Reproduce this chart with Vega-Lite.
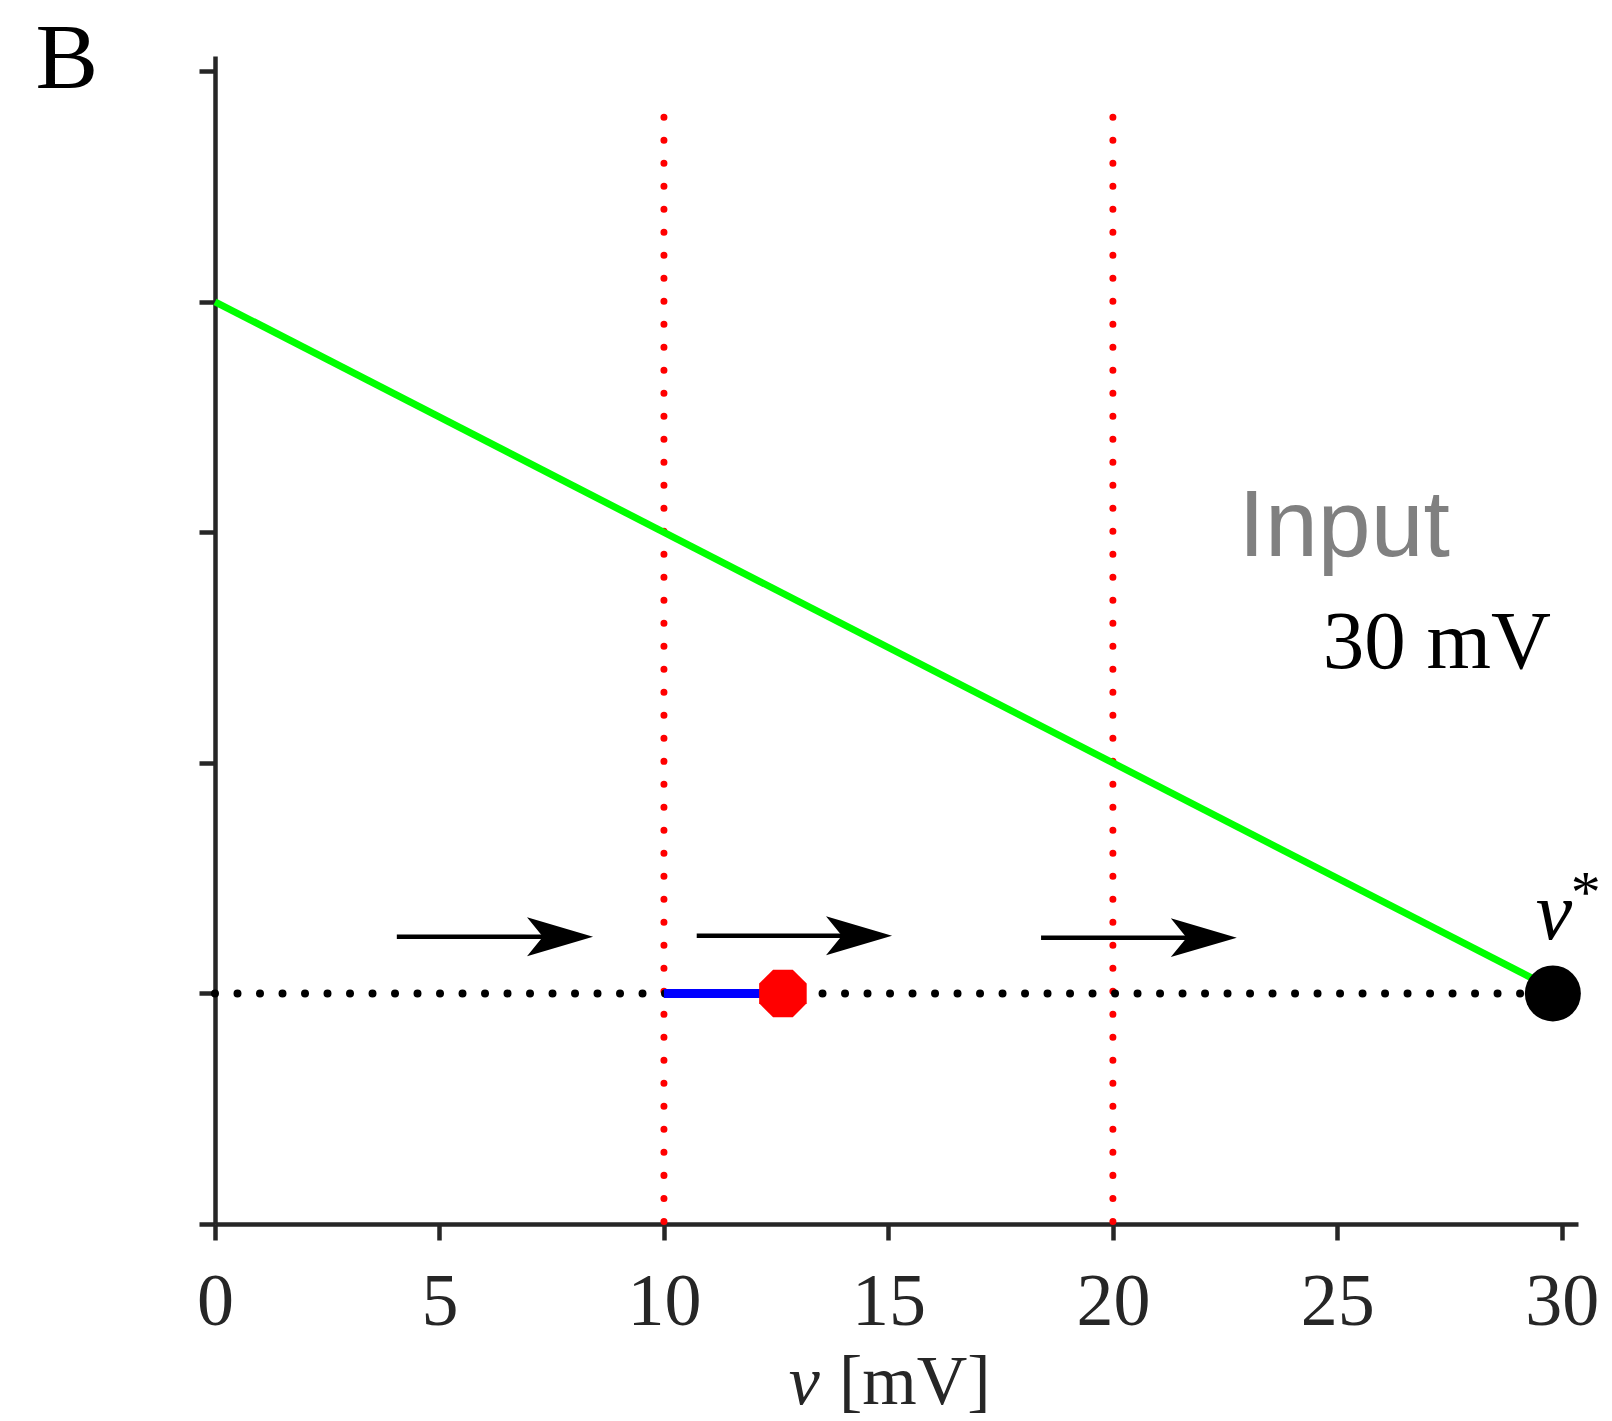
{
  "$schema": "https://vega.github.io/schema/vega-lite/v6.json",
  "width": 1363,
  "height": 1168,
  "autosize": {"type": "none"},
  "padding": {"left": 215, "top": 56, "right": 34, "bottom": 197},
  "background": "white",
  "datasets": {
    "green": [{"v": 0, "f": 4}, {"v": 29.8, "f": 1.02}],
    "thresholds": [{"v": 10, "top": 4.8, "bottom": 0}, {"v": 20, "top": 4.8, "bottom": 0}],
    "baseline": [{"v0": 0, "v1": 29.8, "f": 1}],
    "flow": [{"v0": 10, "v1": 12.65, "f": 1}],
    "arrows": [
      {"x0": 4.05, "neck": 7.31, "x1": 8.42, "f": 1.246},
      {"x0": 10.73, "neck": 13.97, "x1": 15.08, "f": 1.25},
      {"x0": 18.4, "neck": 21.65, "x1": 22.76, "f": 1.242}
    ],
    "reset": [{"v": 12.65, "f": 1}],
    "fixed": [{"v": 29.8, "f": 1}]
  },
  "layer": [
    {
      "data": {"name": "thresholds"},
      "mark": {"type": "rule", "color": "#ff0000", "strokeWidth": 7, "strokeCap": "round", "strokeDash": [0.001, 23]},
      "encoding": {
        "x": {"field": "v", "type": "quantitative", "scale": {"domain": [0, 30.36], "nice": false, "zero": false},
          "axis": {"title": null, "values": [0, 5, 10, 15, 20, 25, 30]}},
        "y": {"field": "top", "type": "quantitative", "scale": {"domain": [0, 5.066], "nice": false, "zero": false},
          "axis": {"title": null, "values": [0, 1, 2, 3, 4, 5], "labels": false}},
        "y2": {"field": "bottom"}
      }
    },
    {
      "data": {"name": "baseline"},
      "mark": {"type": "rule", "color": "#000000", "strokeWidth": 8, "strokeCap": "round", "strokeDash": [0.001, 22.5]},
      "encoding": {
        "x": {"field": "v0", "type": "quantitative", "axis": {"title": null}},
        "x2": {"field": "v1"},
        "y": {"field": "f", "type": "quantitative", "axis": {"title": null}}
      }
    },
    {
      "data": {"name": "green"},
      "mark": {"type": "line", "color": "#00ff00", "strokeWidth": 7},
      "encoding": {
        "x": {"field": "v", "type": "quantitative", "axis": {"title": null}},
        "y": {"field": "f", "type": "quantitative", "axis": {"title": null}}
      }
    },
    {
      "data": {"name": "flow"},
      "mark": {"type": "rule", "color": "#0000ff", "strokeWidth": 9},
      "encoding": {
        "x": {"field": "v0", "type": "quantitative", "axis": {"title": null}},
        "x2": {"field": "v1"},
        "y": {"field": "f", "type": "quantitative", "axis": {"title": null}}
      }
    },
    {
      "data": {"name": "arrows"},
      "mark": {"type": "rule", "color": "#000000", "strokeWidth": 4.5},
      "encoding": {
        "x": {"field": "x0", "type": "quantitative", "axis": {"title": null}},
        "x2": {"field": "neck"},
        "y": {"field": "f", "type": "quantitative", "axis": {"title": null}}
      }
    },
    {
      "data": {"name": "arrows"},
      "mark": {"type": "point", "shape": "M0,0L-2,-0.59L-1.52,0L-2,0.59Z", "size": 4356, "filled": true, "color": "#000000", "opacity": 1, "strokeWidth": 0},
      "encoding": {
        "x": {"field": "x1", "type": "quantitative", "axis": {"title": null}},
        "y": {"field": "f", "type": "quantitative", "axis": {"title": null}}
      }
    },
    {
      "data": {"name": "reset"},
      "mark": {"type": "point", "shape": "M-0.383,-0.924L0.383,-0.924L0.924,-0.383L0.924,0.383L0.383,0.924L-0.383,0.924L-0.924,0.383L-0.924,-0.383Z", "size": 2650, "filled": true, "color": "#ff0000", "opacity": 1, "strokeWidth": 0},
      "encoding": {
        "x": {"field": "v", "type": "quantitative", "axis": {"title": null}},
        "y": {"field": "f", "type": "quantitative", "axis": {"title": null}}
      }
    },
    {
      "data": {"name": "fixed"},
      "mark": {"type": "circle", "size": 3136, "color": "#000000", "opacity": 1},
      "encoding": {
        "x": {"field": "v", "type": "quantitative", "axis": {"title": null}},
        "y": {"field": "f", "type": "quantitative", "axis": {"title": null}}
      }
    },
    {
      "data": {"values": [{"label": "B"}]},
      "mark": {"type": "text", "font": "Liberation Serif", "fontSize": 94, "color": "#000000", "align": "left", "baseline": "alphabetic"},
      "encoding": {"text": {"field": "label"}, "x": {"datum": -4.0, "type": "quantitative"}, "y": {"datum": 4.926, "type": "quantitative"}}
    },
    {
      "data": {"values": [{"label": "Input"}]},
      "mark": {"type": "text", "font": "Liberation Sans", "fontSize": 95, "color": "#808080", "align": "left", "baseline": "alphabetic"},
      "encoding": {"text": {"field": "label"}, "x": {"datum": 22.8, "type": "quantitative"}, "y": {"datum": 2.897, "type": "quantitative"}}
    },
    {
      "data": {"values": [{"label": "30 mV"}]},
      "mark": {"type": "text", "font": "Liberation Serif", "fontSize": 83, "color": "#000000", "align": "right", "baseline": "alphabetic"},
      "encoding": {"text": {"field": "label"}, "x": {"datum": 29.76, "type": "quantitative"}, "y": {"datum": 2.41, "type": "quantitative"}}
    },
    {
      "data": {"values": [{"label": "v"}]},
      "mark": {"type": "text", "font": "Liberation Serif", "fontStyle": "italic", "fontSize": 82, "color": "#000000", "align": "left", "baseline": "alphabetic"},
      "encoding": {"text": {"field": "label"}, "x": {"datum": 29.42, "type": "quantitative"}, "y": {"datum": 1.236, "type": "quantitative"}}
    },
    {
      "data": {"values": [{"label": "*"}]},
      "mark": {"type": "text", "font": "Liberation Serif", "fontSize": 60, "color": "#000000", "align": "left", "baseline": "alphabetic"},
      "encoding": {"text": {"field": "label"}, "x": {"datum": 30.2, "type": "quantitative"}, "y": {"datum": 1.355, "type": "quantitative"}}
    },
    {
      "data": {"values": [{"label": "v"}]},
      "mark": {"type": "text", "font": "Liberation Serif", "fontStyle": "italic", "fontSize": 70, "color": "#262626", "align": "left", "baseline": "alphabetic"},
      "encoding": {"text": {"field": "label"}, "x": {"datum": 12.78, "type": "quantitative"}, "y": {"datum": -0.78, "type": "quantitative"}}
    },
    {
      "data": {"values": [{"label": "[mV]"}]},
      "mark": {"type": "text", "font": "Liberation Serif", "fontSize": 70, "color": "#262626", "align": "left", "baseline": "alphabetic"},
      "encoding": {"text": {"field": "label"}, "x": {"datum": 13.9, "type": "quantitative"}, "y": {"datum": -0.78, "type": "quantitative"}}
    }
  ],
  "config": {
    "view": {"stroke": null},
    "axis": {
      "grid": false,
      "domainColor": "#262626",
      "domainWidth": 4.5,
      "tickColor": "#262626",
      "tickWidth": 4.5,
      "tickSize": 16
    },
    "axisX": {
      "labelFont": "Liberation Serif",
      "labelFontSize": 74,
      "labelColor": "#262626",
      "labelPadding": 26,
      "labelFlush": false,
      "labelOverlap": false
    },
    "axisY": {
      "labels": false
    }
  }
}
